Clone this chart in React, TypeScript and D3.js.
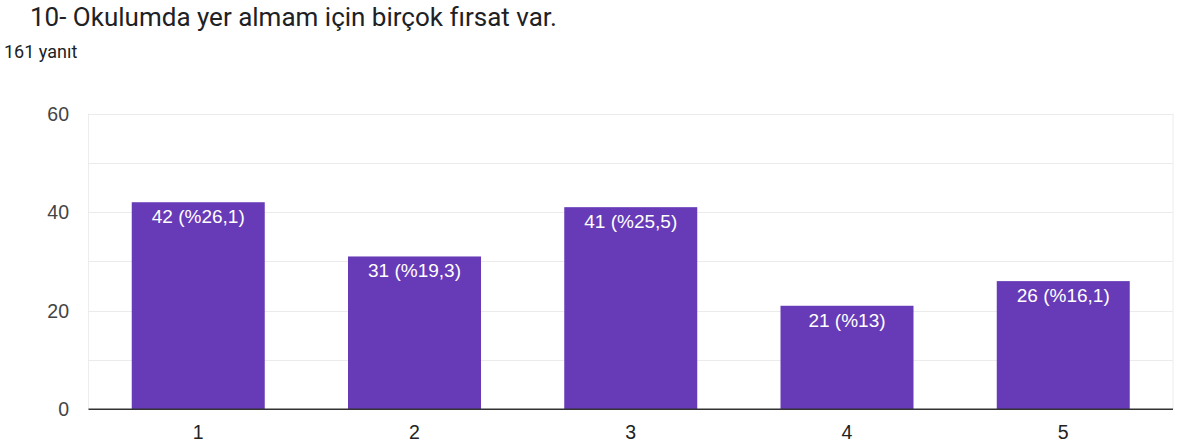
import React, { useEffect, useRef } from 'react';
import * as d3 from 'd3';

const categories = ['1', '2', '3', '4', '5'];
const counts = [42, 31, 41, 21, 26];
const percents = ['26,1', '19,3', '25,5', '13', '16,1'];
const yTicks = [0, 20, 40, 60];
const minorTicks = [10, 30, 50];

const title = '10- Okulumda yer almam için birçok fırsat var.';
const subtitle = '161 yanıt';

export default function App() {
  const ref = useRef<SVGSVGElement>(null);

  useEffect(() => {
    const svg = d3.select(ref.current);
    svg.selectAll('*').remove();

    const width = 1182, height = 445;
    const left = 88.5, right = 1173, top = 113.5, bottom = 409.3;
    const headFont = 'Roboto, Arial, sans-serif';
    const font = 'Arial, "Liberation Sans", sans-serif';

    svg.attr('width', width).attr('height', height);

    // header
    svg.append('text')
      .attr('x', 30).attr('y', 26)
      .attr('font-family', headFont).attr('font-size', 26)
      .attr('fill', '#202124')
      .text(title);
    svg.append('text')
      .attr('x', 4).attr('y', 58)
      .attr('font-family', headFont).attr('font-size', 18)
      .attr('fill', '#202124')
      .text(subtitle);

    const x = d3.scaleBand<string>()
      .domain(categories)
      .range([left, right])
      .paddingInner(0.385)
      .paddingOuter(0.2);

    const y = d3.scaleLinear().domain([0, 60]).range([bottom, top]);

    // grid
    svg.append('g').selectAll('line')
      .data(minorTicks.concat(yTicks.filter(d => d !== 0)))
      .enter().append('line')
      .attr('x1', left).attr('x2', right)
      .attr('y1', d => Math.round(y(d)) + 0.5).attr('y2', d => Math.round(y(d)) + 0.5)
      .attr('stroke', '#ebebeb').attr('stroke-width', 1);
    svg.append('g').selectAll('line')
      .data([left, right])
      .enter().append('line')
      .attr('x1', d => d).attr('x2', d => d)
      .attr('y1', top).attr('y2', bottom)
      .attr('stroke', '#ececec');

    // y labels
    svg.append('g').selectAll('text')
      .data(yTicks)
      .enter().append('text')
      .attr('x', 69).attr('y', d => y(d) + 7)
      .attr('text-anchor', 'end')
      .attr('font-family', font).attr('font-size', 19.5)
      .attr('fill', '#444')
      .text(d => d);

    // bars
    svg.append('g').selectAll('rect')
      .data(counts)
      .enter().append('rect')
      .attr('x', (d, i) => x(categories[i])!)
      .attr('width', x.bandwidth())
      .attr('y', d => y(d))
      .attr('height', d => bottom - y(d))
      .attr('fill', '#673ab7');

    svg.append('g').selectAll('text')
      .data(counts)
      .enter().append('text')
      .attr('x', (d, i) => x(categories[i])! + x.bandwidth() / 2)
      .attr('y', d => y(d) + 21)
      .attr('text-anchor', 'middle')
      .attr('font-family', font).attr('font-size', 19)
      .attr('fill', '#fff')
      .text((d, i) => `${d} (%${percents[i]})`);

    // baseline
    svg.append('line')
      .attr('x1', left).attr('x2', right)
      .attr('y1', bottom).attr('y2', bottom)
      .attr('stroke', '#333').attr('stroke-width', 1.5);

    // x labels
    svg.append('g').selectAll('text')
      .data(categories)
      .enter().append('text')
      .attr('x', d => x(d)! + x.bandwidth() / 2)
      .attr('y', 439)
      .attr('text-anchor', 'middle')
      .attr('font-family', font).attr('font-size', 19.5)
      .attr('fill', '#222')
      .text(d => d);
  }, []);

  return (
    <div style={{ position: 'absolute', left: 0, top: 0 }}>
      <svg ref={ref}></svg>
    </div>
  );
}
